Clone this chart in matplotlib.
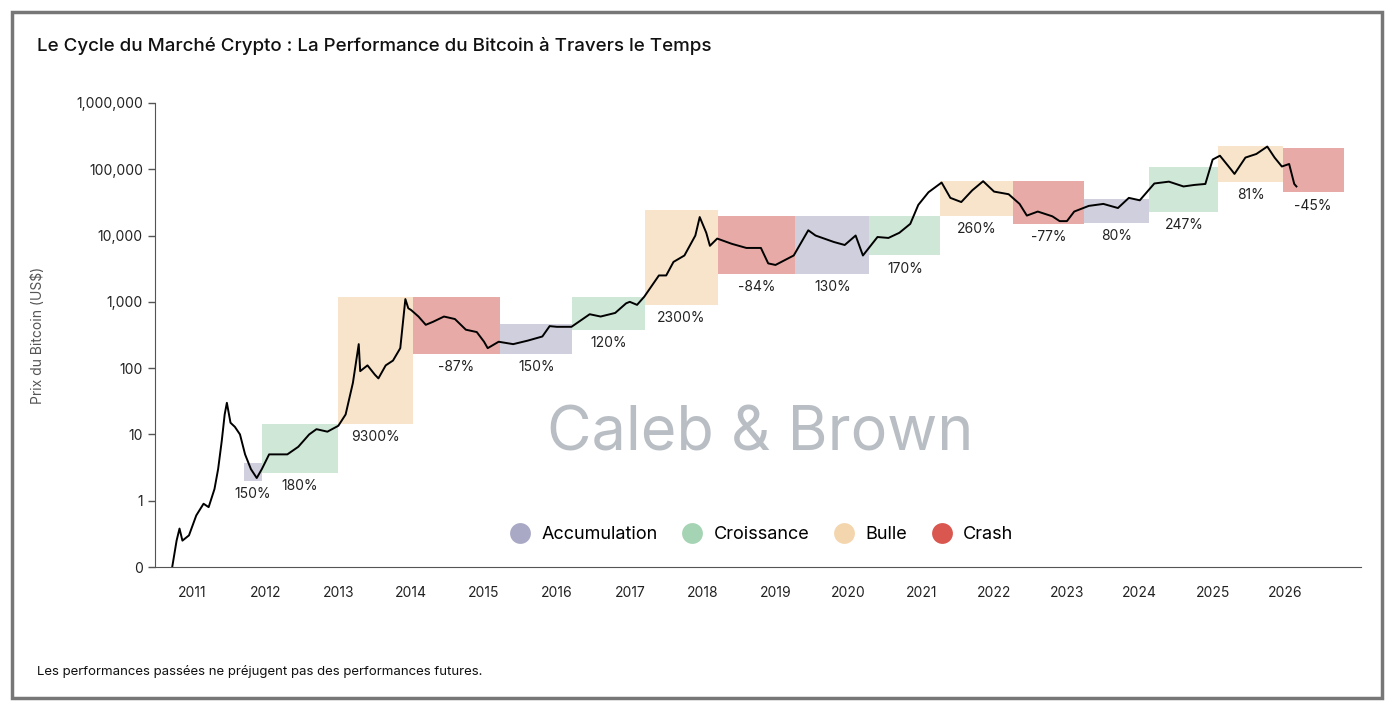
import numpy as np
import matplotlib.pyplot as plt
from matplotlib.patches import Rectangle
from matplotlib.lines import Line2D

plt.rcParams['font.family'] = ['Inter', 'DejaVu Sans']

# price path (year, US$)
years = [2010.72, 2010.78, 2010.82, 2010.86, 2010.95, 2011.05, 2011.15, 2011.22, 2011.3, 2011.35,
         2011.4, 2011.44, 2011.47, 2011.52, 2011.58, 2011.65, 2011.72, 2011.8, 2011.88, 2011.95,
         2012.05, 2012.15, 2012.3, 2012.45, 2012.6, 2012.7, 2012.85, 2013.0, 2013.1, 2013.2,
         2013.28, 2013.3, 2013.4, 2013.5, 2013.55, 2013.65, 2013.75, 2013.85, 2013.92, 2013.96,
         2014.0, 2014.1, 2014.2, 2014.3, 2014.45, 2014.6, 2014.75, 2014.9, 2015.0, 2015.05,
         2015.2, 2015.4, 2015.6, 2015.8, 2015.9, 2016.0, 2016.2, 2016.45, 2016.6, 2016.8,
         2016.95, 2017.0, 2017.1, 2017.2, 2017.4, 2017.5, 2017.6, 2017.75, 2017.9, 2017.96,
         2018.05, 2018.1, 2018.2, 2018.4, 2018.6, 2018.8, 2018.9, 2019.0, 2019.25, 2019.45,
         2019.55, 2019.8, 2019.95, 2020.1, 2020.2, 2020.4, 2020.55, 2020.7, 2020.85, 2020.96,
         2021.1, 2021.28, 2021.4, 2021.55, 2021.7, 2021.85, 2022.0, 2022.2, 2022.35, 2022.45,
         2022.6, 2022.8, 2022.9, 2023.0, 2023.1, 2023.3, 2023.5, 2023.7, 2023.85, 2024.0,
         2024.2, 2024.4, 2024.6, 2024.75, 2024.9, 2025.0, 2025.1, 2025.25, 2025.3, 2025.45,
         2025.6, 2025.75, 2025.85, 2025.95, 2026.05, 2026.12, 2026.15]
prices = [0.1, 0.25, 0.38, 0.25, 0.3, 0.6, 0.9, 0.8, 1.5, 3,
          8, 20, 30, 15, 13, 10, 5, 3, 2.2, 3,
          5, 5, 5, 6.5, 10, 12, 11, 13.5, 20, 60,
          230, 90, 110, 80, 70, 110, 130, 200, 1100, 800,
          750, 600, 450, 500, 600, 550, 380, 350, 250, 200,
          250, 230, 260, 300, 430, 420, 420, 650, 600, 680,
          950, 1000, 900, 1200, 2500, 2500, 4000, 5000, 10000, 19000,
          11000, 7000, 9000, 7500, 6500, 6500, 3800, 3600, 5000, 12000,
          10000, 8000, 7200, 10000, 5000, 9500, 9200, 11000, 15000, 29000,
          45000, 63000, 37000, 32000, 48000, 66000, 46000, 42000, 30000, 20000,
          23000, 19500, 16500, 16500, 23000, 28000, 30000, 26000, 37000, 34000,
          61000, 65000, 55000, 58000, 60000, 140000, 160000, 100000, 85000, 150000,
          170000, 220000, 150000, 110000, 120000, 60000, 55000]

# cycle boxes
phase = ['acc', 'cro', 'bul', 'cra', 'acc', 'cro', 'bul', 'cra', 'acc', 'cro',
         'bul', 'cra', 'acc', 'cro', 'bul', 'cra']
box_start = [2011.71, 2011.95, 2012.99, 2014.02, 2015.22, 2016.21, 2017.21, 2018.21,
             2019.27, 2020.29, 2021.26, 2022.26, 2023.23, 2024.13, 2025.08, 2025.96]
box_end = [2011.95, 2012.99, 2014.02, 2015.22, 2016.21, 2017.21, 2018.21, 2019.27,
           2020.29, 2021.26, 2022.26, 2023.23, 2024.13, 2025.08, 2025.96, 2026.80]
box_low = [2.0, 2.64, 14.5, 165, 165, 380, 905, 2660, 2660, 5000, 19800, 15000, 15500,
           23000, 65000, 45000]
box_high = [3.74, 14.5, 1200, 1200, 470, 1200, 24500, 19800, 19800, 19800, 67000, 67000,
            36000, 108000, 225000, 210000]
perf = ['150%', '180%', '9300%', '-87%', '150%', '120%', '2300%', '-84%', '130%', '170%',
        '260%', '-77%', '80%', '247%', '81%', '-45%']

fill = {'acc': '#cfcfdd', 'cro': '#cfe7d6', 'bul': '#f8e4cb', 'cra': '#e8aaa6'}
dot = {'acc': '#a9a9c6', 'cro': '#a5d4b4', 'bul': '#f4d6ae', 'cra': '#d9574f'}
names = {'acc': 'Accumulation', 'cro': 'Croissance', 'bul': 'Bulle', 'cra': 'Crash'}

fig = plt.figure(figsize=(13.94, 7.10), dpi=100)
ax = fig.add_axes([0.111, 0.2014, 0.865, 0.6536])

for p, x0, x1, lo, hi, t in zip(phase, box_start, box_end, box_low, box_high, perf):
    ax.add_patch(Rectangle((x0, lo), x1 - x0, hi - lo, facecolor=fill[p], edgecolor='none', zorder=1))
    ax.text((x0 + x1) / 2, lo * 0.63, t, ha='center', va='center', fontsize=10, color='#222222', zorder=3)

ax.plot(years, prices, color='black', lw=1.4, zorder=2)

ax.set_yscale('log')
ax.set_ylim(0.1, 1e6)
ax.set_xlim(2010.48, 2027.03)
yt = [0.1, 1, 10, 100, 1e3, 1e4, 1e5, 1e6]
ax.set_yticks(yt)
ax.set_yticklabels(['0', '1', '10', '100', '1,000', '10,000', '100,000', '1,000,000'])
ax.minorticks_off()
ax.set_xticks(range(2011, 2027))
ax.tick_params(axis='x', length=0, pad=14, labelsize=10, colors='#222222')
ax.tick_params(axis='y', length=5, width=1, color='#555555', labelsize=10, colors='#222222')
for s in ['top', 'right']:
    ax.spines[s].set_visible(False)
for s in ['left', 'bottom']:
    ax.spines[s].set_color('#555555')
ax.set_ylabel('Prix du Bitcoin (US$)', fontsize=10, color='#555555', labelpad=22)

ax.text(2018.79, 10, 'Caleb & Brown', ha='center', va='center', fontsize=44,
        color='#b9bec4', zorder=0.5)

handles = [Line2D([], [], marker='o', ls='', markersize=15, markerfacecolor=dot[k],
                  markeredgecolor='none', label=names[k]) for k in ['acc', 'cro', 'bul', 'cra']]
ax.legend(handles=handles, loc='center', bbox_to_anchor=(0.50, 0.07), ncol=4, frameon=False,
          fontsize=13, handletextpad=0.2, columnspacing=0.9)

fig.text(37 / 1394, 1 - 46 / 710, 'Le Cycle du Marché Crypto : La Performance du Bitcoin à Travers le Temps',
         fontsize=13.5, fontweight='medium', va='center', color='#111111')
fig.text(37 / 1394, 1 - 672 / 710, 'Les performances passées ne préjugent pas des performances futures.',
         fontsize=9.5, va='center', color='#111111')
fig.add_artist(Rectangle((12 / 1394, 12 / 710), 1 - 24 / 1394, 1 - 24 / 710, transform=fig.transFigure,
                         fill=False, edgecolor='#777777', lw=2.5))

fig.savefig('out.png', dpi=100)
